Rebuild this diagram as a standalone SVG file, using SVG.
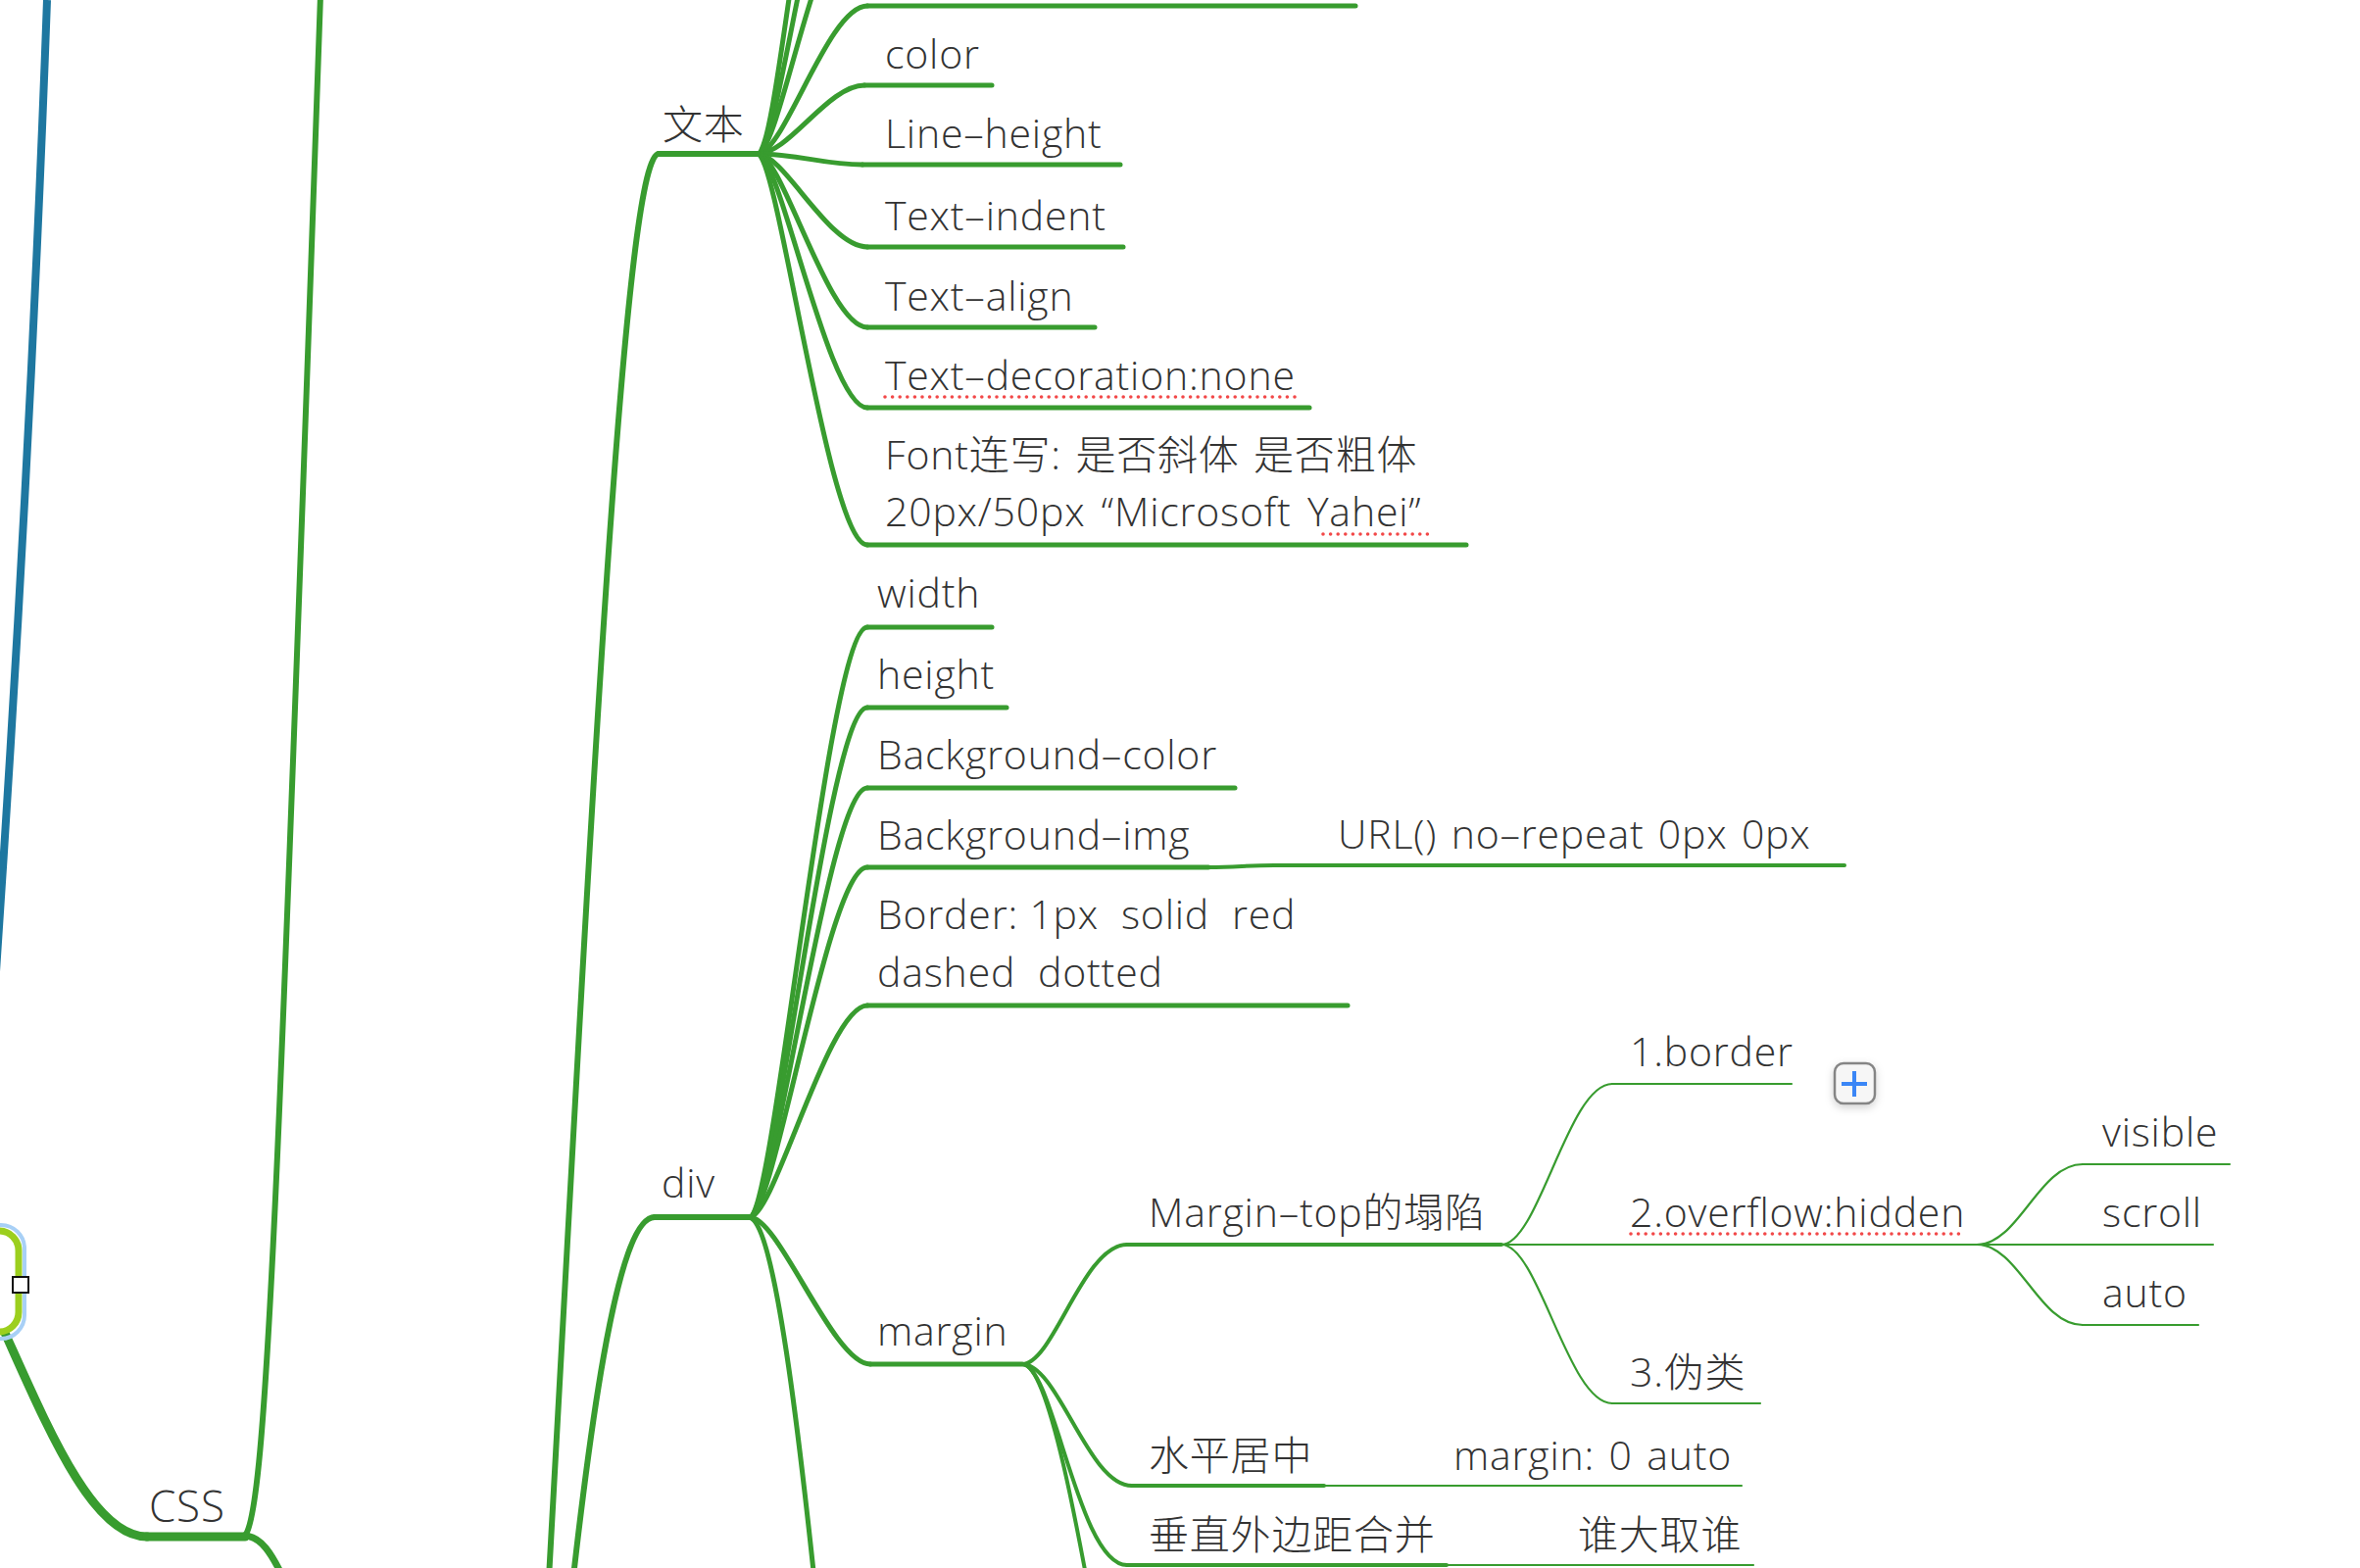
<svg xmlns="http://www.w3.org/2000/svg" width="2408" height="1600" viewBox="0 0 2408 1600">
<style>
text{font-family:"Open Sans","Noto Sans CJK SC",sans-serif;font-size:41px;font-weight:300;letter-spacing:0.8px;fill:#333333;white-space:pre}
.ws{word-spacing:5px}
.ws3{word-spacing:3px}
.c{fill:none;stroke:#389C2F;stroke-linecap:round;stroke-linejoin:round}
.w9{stroke-width:9}.w7{stroke-width:7}.w6{stroke-width:6}.w5{stroke-width:5}.w4{stroke-width:4}.w2{stroke-width:2.2}
.u{fill:none;stroke:#389C2F;stroke-linecap:round}
.dots{fill:none;stroke:#F24848;stroke-width:3.6;stroke-linecap:round;stroke-dasharray:0 7.6}
</style>
<defs>
<linearGradient id="fade" x1="0" x2="1" y1="0" y2="0">
<stop offset="0" stop-color="#d6ecd2"/>
<stop offset="1" stop-color="#93c98a"/>
</linearGradient>
<filter id="sh" x="-40%" y="-40%" width="180%" height="180%">
<feDropShadow dx="0" dy="3" stdDeviation="4" flood-color="#000" flood-opacity="0.18"/>
</filter>
</defs>
<rect width="2408" height="1600" fill="#ffffff"/>

<g id="connectors">
<path d="M48,0 Q30,500 -8,1050" fill="none" stroke="#1E77A0" stroke-width="8"/>
<path class="c w9" d="M5,1360 C50,1460 95,1568 150,1568"/>
<path class="c w6" d="M250,1567 C272,1540 285,1200 327,-5"/>
<path class="c w7" d="M250,1567 C265,1568 276,1580 296,1625"/>
<path class="c w6" d="M555,1700 C600,900 635,157 672,157"/>
<path class="c w6" d="M570,1750 C600,1450 630,1242 668,1242"/>
<path class="c w5" d="M773,157 C795,157 835,-90 875,-90"/>
<path class="c w5" d="M773,157 C795,157 830,-170 870,-170"/>
<path class="c w5" d="M773,157 C795,157 825,-260 865,-260"/>
<path class="c w5" d="M773,157 C800,157 845,6 885,6"/>
<path class="c w5" d="M773,157 C805,157 845,87 882,87"/>
<path class="c w5" d="M773,157 C815,157 840,168 880,168"/>
<path class="c w5" d="M773,157 C800,157 845,252 885,252"/>
<path class="c w5" d="M773,157 C798,157 845,334 885,334"/>
<path class="c w5" d="M773,157 C796,157 845,416 885,416"/>
<path class="c w5" d="M773,157 C794,157 845,556 885,556"/>
<path class="c w5" d="M765,1242 C790,1242 845,640 885,640"/>
<path class="c w5" d="M765,1242 C790,1242 845,722 885,722"/>
<path class="c w5" d="M765,1242 C790,1242 845,804 885,804"/>
<path class="c w5" d="M765,1242 C790,1242 845,885 885,885"/>
<path class="c w5" d="M765,1242 C790,1242 845,1026 885,1026"/>
<path class="c w5" d="M765,1242 C795,1242 850,1392 888,1392"/>
<path class="c w5" d="M765,1242 C790,1250 815,1450 840,1700"/>
<path class="c w4" d="M1233,885 C1262,885 1272,883 1300,883"/>
<path class="c w4" d="M1043,1392 C1075,1392 1105,1270 1150,1270"/>
<path class="c w4" d="M1043,1392 C1080,1392 1110,1516 1155,1516"/>
<path class="c w4" d="M1043,1392 C1075,1392 1100,1597 1150,1597"/>
<path class="c w4" d="M1043,1392 C1070,1392 1100,1560 1125,1700"/>
<path class="c w2" d="M1532,1270 C1570,1270 1600,1106 1645,1106"/>
<path class="c w2" d="M1532,1270 L1663,1270"/>
<path class="c w2" d="M1532,1270 C1570,1270 1600,1432 1645,1432"/>
<path class="c w2" d="M2017,1270 C2060,1270 2080,1188 2125,1188"/>
<path class="c w2" d="M2017,1270 L2125,1270"/>
<path class="c w2" d="M2017,1270 C2060,1270 2080,1352 2125,1352"/>
</g>

<g id="node-root">
<rect x="-200" y="1250" width="225" height="116" rx="24" fill="none" stroke="#A8D0F6" stroke-width="4"/>
<rect x="-200" y="1256" width="219" height="103" rx="20" fill="#ffffff" stroke="#9CCF1E" stroke-width="7"/>
<rect x="13" y="1303" width="16" height="16" fill="#ffffff" stroke="#111111" stroke-width="2"/>
</g>

<g id="node-css">
<line class="u w9" x1="150" y1="1568" x2="250" y2="1568"/>
<text x="152" y="1553" style="font-size:44px">CSS</text>
</g>

<g id="node-wenben">
<line class="u w6" x1="672" y1="157" x2="773" y2="157"/>
<text x="676" y="142">文本</text>
</g>
<g id="node-top-hidden">
<line class="u w5" x1="885" y1="6" x2="1383" y2="6"/>
</g>
<g id="node-color">
<line class="u w5" x1="882" y1="87" x2="1012" y2="87"/>
<text x="903" y="70">color</text>
</g>
<g id="node-line-height">
<line class="u w5" x1="880" y1="168" x2="1143" y2="168"/>
<text x="903" y="151">Line–height</text>
</g>
<g id="node-text-indent">
<line class="u w5" x1="885" y1="252" x2="1146" y2="252"/>
<text x="903" y="235">Text–indent</text>
</g>
<g id="node-text-align">
<line class="u w5" x1="885" y1="334" x2="1117" y2="334"/>
<text x="903" y="317">Text–align</text>
</g>
<g id="node-text-decoration">
<line class="u w5" x1="885" y1="416" x2="1336" y2="416"/>
<text x="903" y="398">Text–decoration:none</text>
<line class="dots" x1="903" y1="405" x2="1321" y2="405"/>
</g>
<g id="node-font">
<line class="u w5" x1="885" y1="556" x2="1496" y2="556"/>
<text x="903" y="479" class="ws3">Font连写: 是否斜体 是否粗体</text>
<text x="903" y="537" class="ws">20px/50px “Microsoft Yahei”</text>
<line class="dots" x1="1350" y1="545" x2="1462" y2="545"/>
</g>

<g id="node-div">
<line class="u w6" x1="668" y1="1242" x2="765" y2="1242"/>
<text x="675" y="1222">div</text>
</g>
<g id="node-width">
<line class="u w5" x1="885" y1="640" x2="1012" y2="640"/>
<text x="895" y="620">width</text>
</g>
<g id="node-height">
<line class="u w5" x1="885" y1="722" x2="1027" y2="722"/>
<text x="895" y="703">height</text>
</g>
<g id="node-bgcolor">
<line class="u w5" x1="885" y1="804" x2="1260" y2="804"/>
<text x="895" y="785">Background–color</text>
</g>
<g id="node-bgimg">
<line class="u w5" x1="885" y1="885" x2="1233" y2="885"/>
<text x="895" y="867">Background–img</text>
</g>
<g id="node-url">
<line class="u w4" x1="1300" y1="883" x2="1882" y2="883"/>
<text x="1365" y="866" class="ws3">URL() no–repeat 0px 0px</text>
</g>
<g id="node-border">
<line class="u w5" x1="885" y1="1026" x2="1375" y2="1026"/>
<text x="895" y="948">Border: 1px  solid  red</text>
<text x="895" y="1007">dashed  dotted</text>
</g>
<g id="node-margin">
<line class="u w5" x1="888" y1="1392" x2="1043" y2="1392"/>
<text x="895" y="1373">margin</text>
</g>
<g id="node-margin-top">
<line class="u w4" x1="1150" y1="1270" x2="1532" y2="1270"/>
<text x="1172" y="1252">Margin–top的塌陷</text>
</g>
<g id="node-1border">
<line class="u w2" x1="1645" y1="1106" x2="1828" y2="1106"/>
<line x1="1828" y1="1106" x2="1871" y2="1106" stroke="url(#fade)" stroke-width="2.4"/>
<text x="1663" y="1088">1.border</text>
<g id="expand-button" filter="url(#sh)">
<rect x="1872" y="1085" width="41" height="41" rx="9" fill="#f6f6f6" stroke="#858585" stroke-width="2.5"/>
</g>
<path d="M1879,1106 H1905 M1892,1093 V1119" stroke="#3A86F6" stroke-width="4" fill="none"/>
</g>
<g id="node-overflow">
<line class="u w2" x1="1663" y1="1270" x2="2017" y2="1270"/>
<text x="1663" y="1252">2.overflow:hidden</text>
<line class="dots" x1="1664" y1="1259" x2="2000" y2="1259"/>
</g>
<g id="node-pseudo">
<line class="u w2" x1="1645" y1="1432" x2="1796" y2="1432"/>
<text x="1663" y="1415">3.伪类</text>
</g>
<g id="node-visible">
<line class="u w2" x1="2125" y1="1188" x2="2275" y2="1188"/>
<text x="2145" y="1170">visible</text>
</g>
<g id="node-scroll">
<line class="u w2" x1="2125" y1="1270" x2="2258" y2="1270"/>
<text x="2145" y="1252">scroll</text>
</g>
<g id="node-auto">
<line class="u w2" x1="2125" y1="1352" x2="2243" y2="1352"/>
<text x="2145" y="1334">auto</text>
</g>
<g id="node-center">
<line class="u w4" x1="1155" y1="1516" x2="1351" y2="1516"/>
<text x="1172" y="1500">水平居中</text>
</g>
<g id="node-center-val">
<line class="u w2" x1="1351" y1="1516" x2="1777" y2="1516"/>
<text x="1483" y="1500" class="ws3">margin: 0 auto</text>
</g>
<g id="node-collapse">
<line class="u w4" x1="1150" y1="1597" x2="1476" y2="1597"/>
<text x="1172" y="1581">垂直外边距合并</text>
</g>
<g id="node-collapse-val">
<line class="u w2" x1="1476" y1="1597" x2="1789" y2="1597"/>
<text x="1610" y="1581">谁大取谁</text>
</g>
</svg>
